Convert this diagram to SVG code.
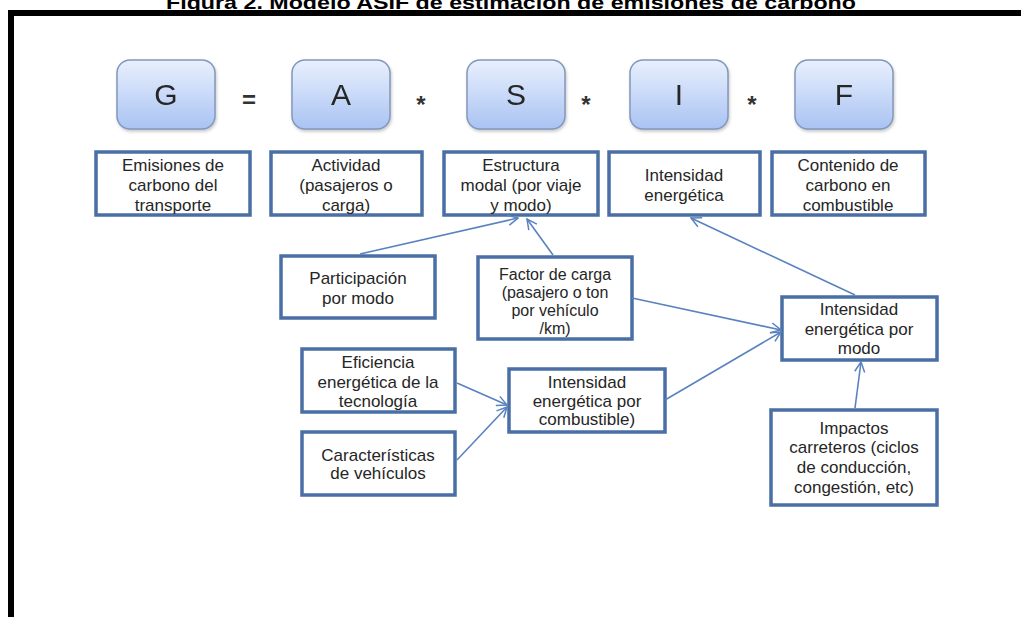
<svg xmlns="http://www.w3.org/2000/svg" width="1021" height="617" viewBox="0 0 1021 617">
<style>
.t{font-family:"Liberation Sans",Arial,sans-serif;font-size:17px;fill:#262626;text-anchor:middle}
.s{font-size:16px}
.big{font-family:"Liberation Sans",Arial,sans-serif;font-size:30px;fill:#262626;text-anchor:middle}
.op{font-family:"Liberation Sans",Arial,sans-serif;font-size:24px;font-weight:bold;fill:#333;text-anchor:middle}
.rb{fill:url(#g);stroke:#8298bd;stroke-width:1.5}
.bx{fill:#fff;stroke:#4a6fa5;stroke-width:3.5}
.c{stroke:#5a82c0;stroke-width:1.6;fill:none;marker-end:url(#ah)}
</style>
<defs>
<linearGradient id="g" x1="0" y1="0" x2="0" y2="1">
<stop offset="0" stop-color="#e9f0fd"/>
<stop offset="1" stop-color="#a9c3f3"/>
</linearGradient>
<filter id="sh" x="-10%" y="-10%" width="130%" height="140%">
<feDropShadow dx="1" dy="2" stdDeviation="1.5" flood-color="#888" flood-opacity="0.45"/>
</filter>
<marker id="ah" viewBox="0 0 12 12" refX="11" refY="6" markerWidth="12" markerHeight="12" markerUnits="userSpaceOnUse" orient="auto">
<path d="M1,1 L11,6 L1,11" fill="none" stroke="#5a82c0" stroke-width="1.5"/>
</marker>
</defs>
<rect width="1021" height="617" fill="#fff"/>
<text x="511" y="9" font-family="Liberation Sans,Arial,sans-serif" font-size="19" font-weight="bold" fill="#000" text-anchor="middle" textLength="690" lengthAdjust="spacingAndGlyphs">Figura 2. Modelo ASIF de estimación de emisiones de carbono</text>
<path d="M11,617 L11,13 L1021,13" fill="none" stroke="#000" stroke-width="6"/>

<g id="G" filter="url(#sh)"><rect class="rb" x="117" y="60" width="98" height="69" rx="13"/><text class="big" x="166" y="105">G</text></g>
<g id="eq"><text class="op" x="249" y="108">=</text></g>
<g id="A" filter="url(#sh)"><rect class="rb" x="292" y="60" width="98" height="69" rx="13"/><text class="big" x="341" y="105">A</text></g>
<g id="m1"><text class="op" x="421" y="113">*</text></g>
<g id="S" filter="url(#sh)"><rect class="rb" x="467" y="60" width="98" height="69" rx="13"/><text class="big" x="516" y="105">S</text></g>
<g id="m2"><text class="op" x="586" y="113">*</text></g>
<g id="I" filter="url(#sh)"><rect class="rb" x="630" y="60" width="98" height="69" rx="13"/><text class="big" x="679" y="105">I</text></g>
<g id="m3"><text class="op" x="752" y="113">*</text></g>
<g id="F" filter="url(#sh)"><rect class="rb" x="795" y="60" width="98" height="69" rx="13"/><text class="big" x="844" y="105">F</text></g>

<g id="emisiones"><rect class="bx" x="96" y="152" width="154" height="63"/><text class="t" x="173" y="171">Emisiones de</text><text class="t" x="173" y="191">carbono del</text><text class="t" x="173" y="211">transporte</text></g>
<g id="actividad"><rect class="bx" x="271" y="152" width="151" height="63"/><text class="t" x="346" y="171">Actividad</text><text class="t" x="346" y="191">(pasajeros o</text><text class="t" x="346" y="211">carga)</text></g>
<g id="estructura"><rect class="bx" x="444" y="152" width="154" height="63"/><text class="t" x="521" y="171">Estructura</text><text class="t" x="521" y="191">modal (por viaje</text><text class="t" x="521" y="211">y modo)</text></g>
<g id="intensidad"><rect class="bx" x="609" y="152" width="151" height="63"/><text class="t" x="684" y="181">Intensidad</text><text class="t" x="684" y="201">energética</text></g>
<g id="contenido"><rect class="bx" x="772" y="152" width="153" height="63"/><text class="t" x="848" y="171">Contenido de</text><text class="t" x="848" y="191">carbono en</text><text class="t" x="848" y="211">combustible</text></g>

<g id="participacion"><rect class="bx" x="281" y="256" width="154" height="62"/><text class="t" x="358" y="284">Participación</text><text class="t" x="358" y="304">por modo</text></g>
<g id="factor"><rect class="bx" x="478" y="257" width="154" height="82"/><text class="t s" x="555" y="280">Factor de carga</text><text class="t s" x="555" y="298">(pasajero o ton</text><text class="t s" x="555" y="316">por vehículo</text><text class="t s" x="555" y="334">/km)</text></g>
<g id="eficiencia"><rect class="bx" x="302" y="349" width="153" height="63"/><text class="t" x="378" y="368">Eficiencia</text><text class="t" x="378" y="388">energética de la</text><text class="t" x="378" y="407">tecnología</text></g>
<g id="caracteristicas"><rect class="bx" x="302" y="432" width="153" height="63"/><text class="t" x="378" y="461">Características</text><text class="t" x="378" y="479">de vehículos</text></g>
<g id="combustible"><rect class="bx" x="509" y="369" width="156" height="63"/><text class="t" x="587" y="388">Intensidad</text><text class="t" x="587" y="407">energética por</text><text class="t" x="587" y="425">combustible)</text></g>
<g id="pormodo"><rect class="bx" x="782" y="297" width="155" height="63"/><text class="t" x="859" y="315">Intensidad</text><text class="t" x="859" y="335">energética por</text><text class="t" x="859" y="354">modo</text></g>
<g id="impactos"><rect class="bx" x="771" y="410" width="166" height="95"/><text class="t" x="854" y="434">Impactos</text><text class="t" x="854" y="453">carreteros (ciclos</text><text class="t" x="854" y="473">de conducción,</text><text class="t" x="854" y="493">congestión, etc)</text></g>

<g id="connectors">
<line class="c" x1="360" y1="254" x2="518" y2="218"/>
<line class="c" x1="553" y1="255" x2="527" y2="219"/>
<line class="c" x1="632" y1="298" x2="781" y2="330"/>
<line class="c" x1="665" y1="400" x2="781" y2="332"/>
<line class="c" x1="855" y1="295" x2="691" y2="218"/>
<line class="c" x1="855" y1="408" x2="861" y2="362"/>
<line class="c" x1="457" y1="383" x2="507" y2="405"/>
<line class="c" x1="457" y1="460" x2="507" y2="407"/>
</g>
</svg>
